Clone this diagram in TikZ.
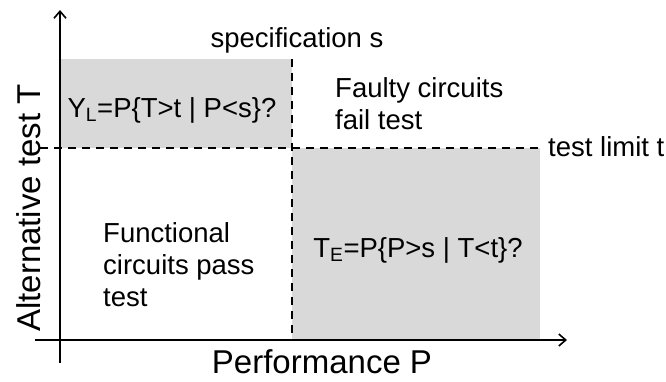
\documentclass[tikz,border=0pt]{standalone}
\usepackage{fontspec}
\setmainfont{Liberation Sans}
\usetikzlibrary{arrows.meta}
\definecolor{regiongray}{HTML}{D9D9D9}
\tikzset{
  lbl/.style={inner sep=0pt, font=\fontsize{27.5}{32}\selectfont, text=black},
  biglbl/.style={inner sep=0pt, font=\fontsize{33}{38}\selectfont, text=black},
  axis/.style={line width=1.8pt, -{Straight Barb[length=7pt,width=12pt,line width=1.6pt]}},
  limit/.style={line width=1.8pt, dash pattern=on 8pt off 6pt},
  region/.style={fill=regiongray, draw=none}
}
\begin{document}
\begin{tikzpicture}[x=1pt,y=-1pt]
\useasboundingbox (0,0) rectangle (666,381);
% shaded regions
\fill[region] (60,59) rectangle (292,148);
\fill[region] (292,148) rectangle (540,340);
% coordinates
\coordinate (sTop) at (292,59);
\coordinate (sBot) at (292,340);
\coordinate (tLeft) at (40,148);
\coordinate (tRight) at (540,148);
\coordinate (yStart) at (60,363);
\coordinate (yEnd) at (60,10);
\coordinate (xStart) at (35,340);
\coordinate (xEnd) at (567,340);
% dashed limits
\draw[limit] (sTop) -- (sBot);
\draw[limit] (tLeft) -- (tRight);
% axes
\draw[axis] (yStart) -- (yEnd);
\draw[axis] (xStart) -- (xEnd);
% labels
\node[lbl] (spec) at (297,40) {specification s};
\node[lbl] (yl) at (172,110) {Y\textsubscript{L}=P\{T>t | P<s\}?};
\node[lbl, anchor=west, align=left] (faulty) at (335,104) {Faulty circuits\\fail test};
\node[lbl, anchor=west] (tlimit) at (548,147) {test limit t};
\node[lbl, anchor=west, align=left] (func) at (103,265) {Functional\\circuits pass\\test};
\node[lbl] (te) at (418,250) {T\textsubscript{E}=P\{P>s | T<t\}?};
\node[biglbl] (perf) at (322,362) {Performance P};
\node[biglbl, rotate=90] (alt) at (29,208) {Alternative test T};
\end{tikzpicture}
\end{document}
